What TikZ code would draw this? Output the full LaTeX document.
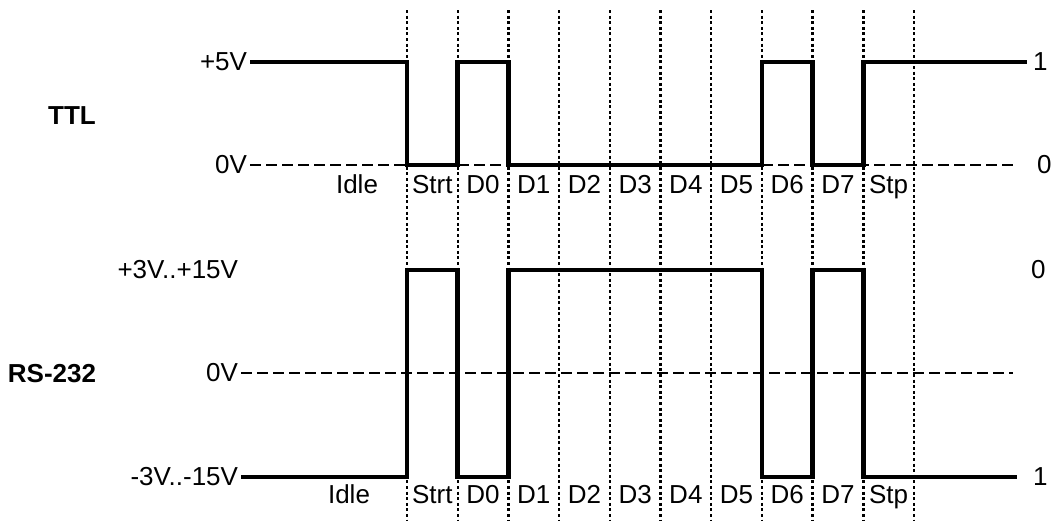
\documentclass[tikz,border=0pt]{standalone}
\usepackage{fontspec}
\setmainfont{Liberation Sans}
\begin{document}
\begin{tikzpicture}[x=1pt, y=-1pt,
  txt/.style={font=\fontsize{26}{30}\selectfont, inner sep=0pt},
  head/.style={txt, font=\fontsize{26}{30}\selectfont\bfseries},
  lvltxt/.style={txt, anchor=east, outer sep=3pt},
  endtxt/.style={txt, anchor=west},
  sig/.style={line width=4.5pt},
  lvl/.style={line width=2pt, dash pattern=on 11pt off 5pt},
  bitline/.style={line width=2.4pt, dash pattern=on 3pt off 2.6pt}]
\useasboundingbox (0,0) rectangle (1054,522);
% bit boundaries
\foreach \i in {0,...,10} \coordinate (b\i) at ({407+50.7*\i},0);
\coordinate (top) at (0,10);
\coordinate (bot) at (0,520);
\coordinate (dashEnd) at (1013,0);
% TTL
\node[head] (ttl) at (72,116) {TTL};
\node[lvltxt] (tHi) at (250,62) {+5V};
\node[lvltxt] (tLo) at (250,165) {0V};
\node[endtxt, outer sep=6pt] (tOne) at (1027,62) {1};
\node[endtxt] (tNul) at (1037,165) {0};
% RS-232
\node[head] (rs) at (52,374) {RS-232};
\node[lvltxt] (rHi) at (241,270) {+3V..+15V};
\node[lvltxt] (rMid) at (241,373) {0V};
\node[lvltxt] (rLo) at (241,477) {-3V..-15V};
\node[endtxt] (rNul) at (1031,270) {0};
\node[endtxt, outer sep=16pt] (rOne) at (1017,477) {1};
% bit names
\node[txt, anchor=base] (tIdle) at (357,193) {Idle};
\node[txt, anchor=base] (rIdle) at (349,503) {Idle};
\foreach \t [count=\i from 0] in {Strt,D0,D1,D2,D3,D4,D5,D6,D7,Stp} {
  \node[txt, anchor=base] (t\t) at ({432.35+50.7*\i},193) {\t};
  \node[txt, anchor=base] (r\t) at ({432.35+50.7*\i},503) {\t};
}
% zero lines
\draw[lvl] (tLo.east) -- (dashEnd |- tLo.east);
\draw[lvl] (rMid.east) -- (dashEnd |- rMid.east);
\foreach \i in {0,...,10} \draw[bitline] (b\i |- top) -- (b\i |- bot);
% signals
\draw[sig] (tHi.east) -- (b0 |- tHi.east) |- (b1 |- tLo.east) |- (b2 |- tHi.east) |- (b7 |- tLo.east) |- (b8 |- tHi.east) |- (b9 |- tLo.east) |- (tOne.west);
\draw[sig] (rLo.east) -- (b0 |- rLo.east) |- (b1 |- rHi.east) |- (b2 |- rLo.east) |- (b7 |- rHi.east) |- (b8 |- rLo.east) |- (b9 |- rHi.east) |- (rOne.west);
\end{tikzpicture}
\end{document}
